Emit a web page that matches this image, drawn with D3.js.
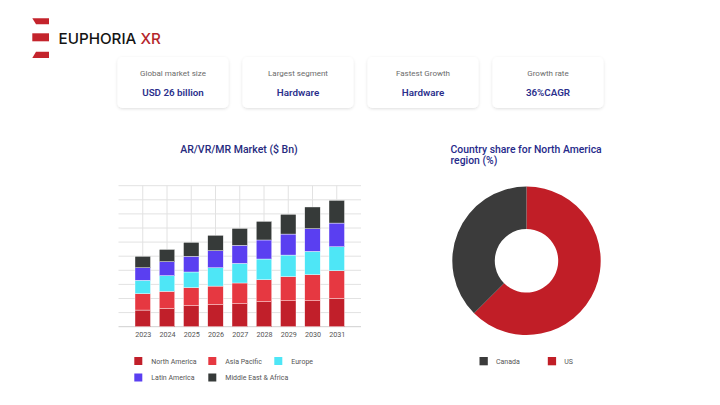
<!DOCTYPE html>
<html><head><meta charset="utf-8">
<script src="https://cdn.jsdelivr.net/npm/d3@7"></script>
<style>
html,body{margin:0;padding:0;background:#fff;}
svg{display:block;font-family:Roboto, "Noto Sans", sans-serif;}
</style></head>
<body>
<svg id="c" width="720" height="405"></svg>
<script>
const years = ["2023","2024","2025","2026","2027","2028","2029","2030","2031"];
const regions = ["North America","Asia Pacific","Europe","Latin America","Middle East & Africa"];
const northAmerica = [1.18,1.28,1.49,1.56,1.63,1.77,1.84,1.84,1.99];
const asiaPacific  = [1.16,1.23,1.28,1.32,1.47,1.56,1.71,1.85,1.98];
const europe       = [0.95,1.11,1.11,1.30,1.39,1.47,1.53,1.65,1.70];
const latinAmerica = [0.89,0.99,1.11,1.21,1.28,1.35,1.49,1.61,1.68];
const middleEastAfrica = [0.81,0.87,0.99,1.09,1.20,1.32,1.40,1.54,1.61];
const regionColors = ["#c11f2a","#e63841","#4ee6f6","#5a3ff1","#363a39"];
const yTicks = [0,1,2,3,4,5,6,7,8,9,10];

const countries = ["Canada","US"];
const countryShare = [37.5,62.5];
const countryColors = ["#3b3b3b","#c11e27"];

const cardLabels = ["Global market size","Largest segment","Fastest Growth","Growth rate"];
const cardValues = ["USD 26 billion","Hardware","Hardware","36%CAGR"];

const svg = d3.select("#c");
const defs = svg.append("defs");
const f = defs.append("filter").attr("id","sh").attr("x","-20%").attr("y","-20%").attr("width","140%").attr("height","150%");
f.append("feDropShadow").attr("dx",0).attr("dy",1).attr("stdDeviation",1.6).attr("flood-color","#000").attr("flood-opacity",0.13);

// Logo
const logo = svg.append("g");
logo.append("path").attr("d","M32.3,18.3 L49,18.3 L49,24.3 L36,24.3 Z").attr("fill","#c4242c");
logo.append("rect").attr("x",32.3).attr("y",33.3).attr("width",16.7).attr("height",8).attr("fill","#c4242c");
logo.append("path").attr("d","M36,51.7 L49,51.7 L49,58 L32.3,58 Z").attr("fill","#c4242c");
const lt = logo.append("text").attr("x",58.5).attr("y",44.3).attr("font-size",15.2).attr("font-weight",500).attr("fill","#141414").attr("font-family","Inter, sans-serif");
lt.append("tspan").text("EUPHORIA ");
lt.append("tspan").attr("fill","#b5262c").text("XR");

// Cards
const cardX = d3.scalePoint().domain(cardLabels).range([117.5,492.5]);
const cards = svg.append("g").selectAll("g").data(cardLabels).join("g")
  .attr("transform",d=>`translate(${cardX(d)},57)`);
cards.append("rect").attr("width",111).attr("height",51).attr("rx",5).attr("fill","#fff").attr("filter","url(#sh)");
cards.append("text").attr("x",55.5).attr("y",18.5).attr("text-anchor","middle").attr("font-size",8).attr("fill","#6b6b6b").text(d=>d);
cards.append("text").attr("x",55.5).attr("y",39).attr("text-anchor","middle").attr("font-size",9.8).attr("font-weight",600).attr("fill","#2b2f8c").text((d,i)=>cardValues[i]);

// Bar chart
const x = d3.scalePoint().domain(years).range([118.5,361]).padding(1);
const y = d3.scaleLinear().domain([0,10]).range([326.7,185.7]);
const bw = 15.5;
const g = svg.append("g");
g.append("g").selectAll("line").data(yTicks).join("line")
  .attr("x1",118.5).attr("x2",361).attr("y1",d=>y(d)).attr("y2",d=>y(d))
  .attr("stroke",d=>d===0?"#cfcfcf":"#e2e2e2").attr("stroke-width",1);
g.append("g").selectAll("line").data(years).join("line")
  .attr("x1",d=>x(d)).attr("x2",d=>x(d)).attr("y1",y(10)).attr("y2",y(0))
  .attr("stroke","#e2e2e2").attr("stroke-width",1);

const table = years.map((yr,i)=>({year:yr,"North America":northAmerica[i],"Asia Pacific":asiaPacific[i],"Europe":europe[i],"Latin America":latinAmerica[i],"Middle East & Africa":middleEastAfrica[i]}));
const stack = d3.stack().keys(regions)(table);
g.append("g").selectAll("g").data(stack).join("g").attr("fill",(d,i)=>regionColors[i])
  .selectAll("rect").data(d=>d).join("rect")
  .attr("x",d=>x(d.data.year)-bw/2).attr("width",bw)
  .attr("y",d=>y(d[1])).attr("height",d=>y(d[0])-y(d[1]))
  .attr("stroke","#ffffff").attr("stroke-width",0.4);

const xAxis = g.append("g").attr("transform",`translate(0,${y(0)})`).call(d3.axisBottom(x).tickSize(0).tickPadding(5.5));
xAxis.select(".domain").remove();
xAxis.selectAll("text").attr("font-size",7.2).attr("fill","#555").attr("font-family","Roboto, sans-serif");

svg.append("text").attr("x",239).attr("y",152.5).attr("text-anchor","middle").attr("font-size",10.5).attr("font-weight",500).attr("fill","#262a7e").text("AR/VR/MR Market ($ Bn)");

// Bar legend
const legPos = [[134.3,361],[208.3,361],[274.3,361],[134.3,377.5],[208.3,377.5]];
const leg = svg.append("g").selectAll("g").data(regions).join("g")
  .attr("transform",(d,i)=>`translate(${legPos[i][0]},${legPos[i][1]})`);
leg.append("rect").attr("x",0).attr("y",-4).attr("width",8).attr("height",8).attr("fill",(d,i)=>regionColors[i]);
leg.append("text").attr("x",17).attr("y",2.5).attr("font-size",7).attr("fill","#555").text(d=>d);

// Donut
svg.append("text").attr("x",450.5).attr("y",152.5).attr("font-size",10.4).attr("font-weight",500).attr("fill","#262a8a").text("Country share for North America");
svg.append("text").attr("x",450.5).attr("y",164.2).attr("font-size",10.4).attr("font-weight",500).attr("fill","#262a8a").text("region (%)");
const pie = d3.pie().sort(null).value(d=>d.v).startAngle(0).endAngle(2*Math.PI);
const arcs = pie([{k:"US",v:countryShare[1],c:countryColors[1]},{k:"Canada",v:countryShare[0],c:countryColors[0]}]);
const arc = d3.arc().innerRadius(31.7).outerRadius(74.2);
svg.append("g").attr("transform","translate(526.5,260.8)").selectAll("path").data(arcs).join("path")
  .attr("d",arc).attr("fill",d=>d.data.c);

const dlegPos = [479.5,547.8];
const dleg = svg.append("g").selectAll("g").data(countries).join("g")
  .attr("transform",(d,i)=>`translate(${dlegPos[i]},361)`);
dleg.append("rect").attr("x",0).attr("y",-4).attr("width",8.3).attr("height",8.3).attr("fill",(d,i)=>countryColors[i]);
dleg.append("text").attr("x",16.5).attr("y",2.5).attr("font-size",7).attr("fill","#555").text(d=>d);
</script>
</body></html>
